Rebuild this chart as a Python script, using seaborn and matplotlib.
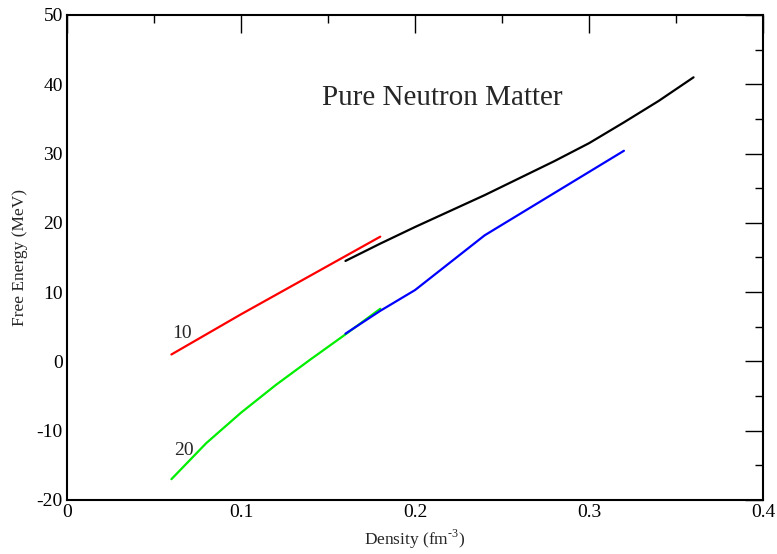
import matplotlib
matplotlib.use("Agg")
import matplotlib.pyplot as plt
from matplotlib.ticker import MultipleLocator
import seaborn as sns
import pandas as pd

# Free energy curves of pure neutron matter vs. density
density_10 = [0.06, 0.08, 0.10, 0.12, 0.14, 0.16, 0.18]
energy_10 = [1.0, 3.9, 6.8, 9.6, 12.4, 15.2, 18.0]

density_20 = [0.06, 0.08, 0.10, 0.12, 0.14, 0.16, 0.18]
energy_20 = [-17.0, -11.8, -7.4, -3.4, 0.3, 3.9, 7.6]

density_blue = [0.16, 0.18, 0.20, 0.24, 0.28, 0.32]
energy_blue = [4.0, 7.3, 10.3, 18.2, 24.3, 30.4]

density_black = [0.16, 0.18, 0.20, 0.24, 0.28, 0.30, 0.32, 0.34, 0.36]
energy_black = [14.5, 17.0, 19.4, 24.0, 28.9, 31.5, 34.5, 37.6, 41.0]

sns.set_style("white")
plt.rcParams["font.family"] = ["Liberation Serif", "DejaVu Serif"]
plt.rcParams["mathtext.fontset"] = "custom"
plt.rcParams["mathtext.rm"] = "Liberation Serif"
plt.rcParams["axes.unicode_minus"] = False

fig = plt.figure(figsize=(7.77, 5.54), dpi=100)
ax = fig.add_axes([0.0862, 0.0975, 0.896, 0.8755])

series = [
    (density_10, energy_10, "#ff0000"),
    (density_20, energy_20, "#00ee00"),
    (density_blue, energy_blue, "#0000ff"),
    (density_black, energy_black, "#000000"),
]
for xs, ys, col in series:
    df = pd.DataFrame({"density": xs, "energy": ys})
    sns.lineplot(data=df, x="density", y="energy", ax=ax, color=col,
                 linewidth=1.6, sort=False)

ax.set_xlim(0, 0.4)
ax.set_ylim(-20, 50)
ax.xaxis.set_major_locator(MultipleLocator(0.1))
ax.xaxis.set_minor_locator(MultipleLocator(0.05))
ax.yaxis.set_major_locator(MultipleLocator(10))
ax.yaxis.set_minor_locator(MultipleLocator(5))
ax.xaxis.set_major_formatter(plt.FuncFormatter(lambda v, p: "0" if abs(v) < 1e-9 else f"{v:g}"))
ax.yaxis.set_major_formatter(plt.FuncFormatter(lambda v, p: f"{v:g}"))

ax.tick_params(which="both", direction="in", top=True, right=True,
               labelsize=14, colors="black", pad=3)
ax.tick_params(which="major", length=13, width=1)
ax.tick_params(which="minor", length=6, width=1)
for s in ax.spines.values():
    s.set_linewidth(1.5)
    s.set_color("black")

ax.set_xlabel("Density (fm$^{\\text{-}3}$)", fontsize=12.5, labelpad=5)
ax.set_ylabel("Free Energy (MeV)", fontsize=12.5, labelpad=6)

ax.text(0.1466, 37.0, "Pure Neutron Matter", fontsize=21)
ax.text(0.0605, 4.0, "10", fontsize=14, va="center")
ax.text(0.0618, -12.9, "20", fontsize=14, va="center")

fig.savefig("out.png", dpi=100)
